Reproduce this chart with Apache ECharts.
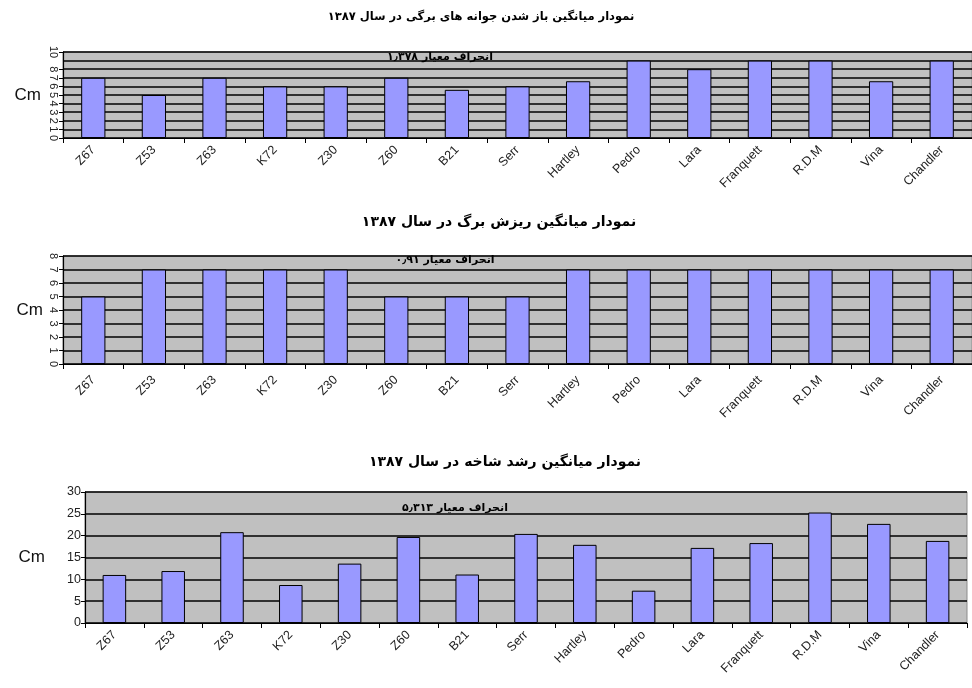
<!DOCTYPE html>
<html>
<head>
<meta charset="utf-8">
<script src="https://cdn.jsdelivr.net/npm/echarts@6/dist/echarts.min.js"></script>
<style>
  html, body { margin: 0; padding: 0; background: #fff; }
  #main { width: 972px; height: 688px; }
</style>
</head>
<body>
<div id="main"></div>
<script>
// Cultivars (shared by all three panels)
const cultivars = ['Z67', 'Z53', 'Z63', 'K72', 'Z30', 'Z60', 'B21', 'Serr', 'Hartley', 'Pedro', 'Lara', 'Franquett', 'R.D.M', 'Vina', 'Chandler'];

// Mean leaf-bud opening, 1387
const budOpening = [7, 5, 7, 6, 6, 7, 5.6, 6, 6.6, 9, 8, 9, 9, 6.6, 9];
// Mean leaf fall, 1387
const leafFall = [5, 7, 7, 7, 7, 5, 5, 5, 7, 7, 7, 7, 7, 7, 7];
// Mean shoot growth, 1387
const shootGrowth = [11, 11.9, 20.8, 8.7, 13.6, 19.7, 11.1, 20.4, 17.9, 7.4, 17.2, 18.3, 25.3, 22.7, 18.8];

const titles = [
  'نمودار میانگین باز شدن جوانه های برگی در سال ۱۳۸۷',
  'نمودار میانگین ریزش برگ در سال ۱۳۸۷',
  'نمودار میانگین رشد شاخه در سال ۱۳۸۷'
];
const stdNotes = ['انحراف معیار ۱٫۳۷۸', 'انحراف معیار ۰٫۹۱', 'انحراف معیار ۵٫۳۱۳'];

const arabicFont = '"DejaVu Sans", sans-serif';
const latinFont = '"Liberation Sans", Arial, sans-serif';

const panels = [
  { left: 63, top: 52, height: 86, right: 0, max: 10, interval: 1, rot: -90, data: budOpening, nameGap: 22, labelMargin: 10 },
  { left: 63, top: 256, height: 108, right: 0, max: 8, interval: 1, rot: -90, data: leafFall, nameGap: 20, labelMargin: 14 },
  { left: 85, top: 492, height: 131, right: 5, max: 30, interval: 5, rot: 0, data: shootGrowth, nameGap: 40, labelMargin: 10 }
];

const titlePos = [[481, 17], [499, 222], [505, 462]];
const titleSize = [11.5, 14, 14];
const notePos = [[440, 57], [445, 260], [455, 508]];

const option = {
  animation: false,
  grid: panels.map(p => ({
    left: p.left, top: p.top, height: p.height, right: p.right,
    show: true, backgroundColor: '#c0c0c0', borderColor: '#8c8c8c', borderWidth: 1,
    containLabel: false
  })),
  xAxis: panels.map((p, i) => ({
    type: 'category', gridIndex: i, data: cultivars,
    axisLine: { lineStyle: { color: '#000', width: 1.2 } },
    axisTick: { show: true, length: 5, lineStyle: { color: '#000' } },
    axisLabel: { rotate: 45, fontSize: 12.5, color: '#222', fontFamily: latinFont, margin: p.labelMargin, interval: 0 },
    splitLine: { show: false }
  })),
  yAxis: panels.map((p, i) => ({
    type: 'value', gridIndex: i, min: 0, max: p.max, interval: p.interval,
    name: 'Cm', nameLocation: 'middle', nameRotate: 0, nameGap: p.nameGap,
    nameTextStyle: { fontSize: 17, color: '#111', fontFamily: latinFont },
    axisLine: { show: true, lineStyle: { color: '#000', width: 1.2 } },
    axisTick: { show: true, length: 4, lineStyle: { color: '#000' } },
    axisLabel: {
      rotate: p.rot, fontSize: p.rot ? 11 : 12.5, color: '#222', fontFamily: latinFont, margin: 4,
      showMinLabel: true, showMaxLabel: true, hideOverlap: false
    },
    splitLine: { show: true, lineStyle: { color: '#000', width: 1.5 } }
  })),
  series: panels.map((p, i) => ({
    type: 'bar', xAxisIndex: i, yAxisIndex: i, data: p.data,
    barWidth: '40%',
    itemStyle: { color: '#9999ff', borderColor: '#000', borderWidth: 1 }
  })),
  graphic: [
    ...titles.map((t, i) => ({
      type: 'text', x: titlePos[i][0], y: titlePos[i][1],
      style: { text: t, fontSize: titleSize[i], fontWeight: 'bold', fontFamily: arabicFont, fill: '#000', align: 'center', verticalAlign: 'middle' }
    })),
    ...stdNotes.map((t, i) => ({
      type: 'text', x: notePos[i][0], y: notePos[i][1], z: 100,
      style: { text: t, fontSize: 11, fontWeight: 'bold', fontFamily: arabicFont, fill: '#000', align: 'center', verticalAlign: 'middle' }
    }))
  ]
};

const chart = echarts.init(document.getElementById('main'), null, { renderer: 'canvas' });
chart.setOption(option);
</script>
</body>
</html>
